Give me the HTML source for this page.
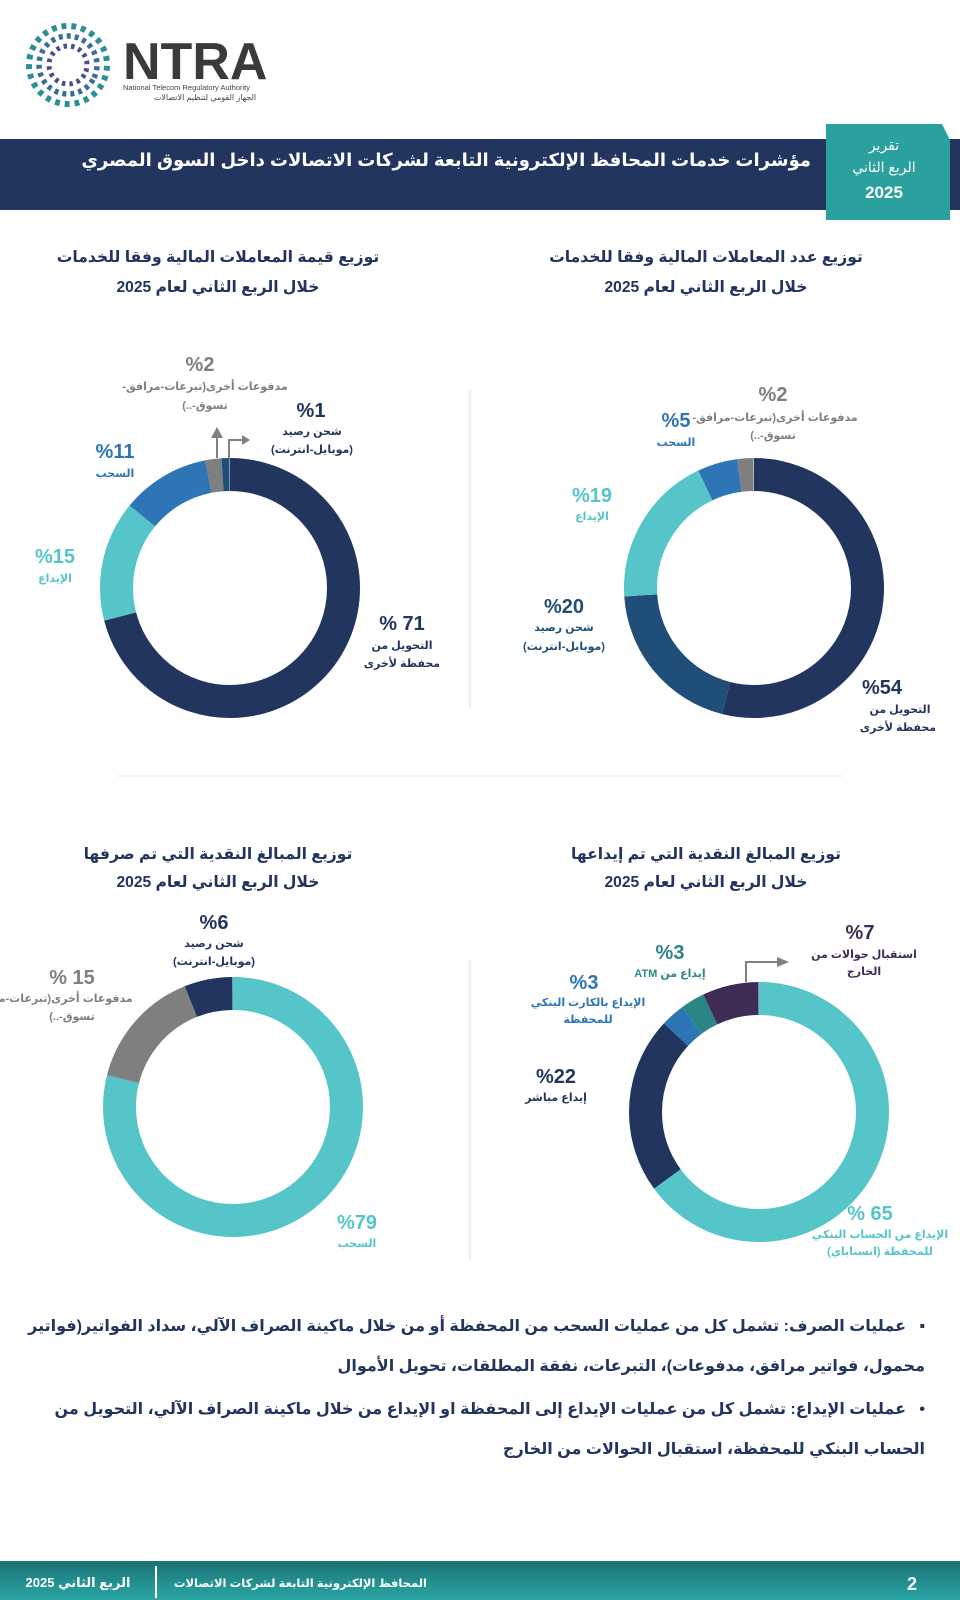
<!DOCTYPE html>
<html><head><meta charset="utf-8"><style>
html,body{margin:0;padding:0;background:#fff;width:960px;height:1600px;overflow:hidden;}
body{position:relative;font-family:"Liberation Sans","DejaVu Sans",sans-serif;}
.b{position:absolute;right:35px;width:900px;direction:rtl;text-align:right;color:#22355e;font-weight:bold;font-size:16px;line-height:40px;}
</style></head><body>
<svg width="960" height="1600" style="position:absolute;left:0;top:0" font-family="Liberation Sans, DejaVu Sans, sans-serif">
<!-- logo dots -->
<g fill="none" transform="rotate(30 68 65)">
<circle cx="68" cy="65" r="39" stroke="#2a8f96" stroke-width="6" stroke-dasharray="4 4" pathLength="200" />
<circle cx="68" cy="65" r="29" stroke="#3a6d9a" stroke-width="5.5" stroke-dasharray="4 4"/>
<circle cx="68" cy="65" r="19" stroke="#4a4f8a" stroke-width="5" stroke-dasharray="3.5 4"/>
</g>
<text x="123" y="79" font-size="52" font-weight="bold" fill="#3a3a3a">NTRA</text>
<text x="123" y="90" font-size="7.5" fill="#444">National Telecom Regulatory Authority</text>
<text x="205" y="100" font-size="8" fill="#444" text-anchor="middle">الجهاز القومي لتنظيم الاتصالات</text>
<!-- banner -->
<rect x="0" y="139" width="960" height="71" fill="#22355e"/>
<polygon points="826,124 942,124 950,140 950,220 826,220" fill="#2aa19f"/>
<text x="884" y="150" font-size="14" fill="#fff" text-anchor="middle">تقرير</text>
<text x="884" y="172" font-size="14" fill="#fff" text-anchor="middle">الربع الثاني</text>
<text x="884" y="198" font-size="17" font-weight="bold" fill="#fff" text-anchor="middle">2025</text>
<text x="811" y="166" font-size="18" font-weight="bold" fill="#fff" text-anchor="end">مؤشرات خدمات المحافظ الإلكترونية التابعة لشركات الاتصالات داخل السوق المصري</text>
<!-- titles -->
<g font-size="15.6" font-weight="bold" fill="#22355e" text-anchor="middle">
<text x="706" y="262">توزيع عدد المعاملات المالية وفقا للخدمات</text>
<text x="706" y="292">خلال الربع الثاني لعام 2025</text>
<text x="218" y="262">توزيع قيمة المعاملات المالية وفقا للخدمات</text>
<text x="218" y="292">خلال الربع الثاني لعام 2025</text>
<text x="706" y="859">توزيع المبالغ النقدية التي تم إيداعها</text>
<text x="706" y="887">خلال الربع الثاني لعام 2025</text>
<text x="218" y="859">توزيع المبالغ النقدية التي تم صرفها</text>
<text x="218" y="887">خلال الربع الثاني لعام 2025</text>
</g>
<line x1="470" y1="390" x2="470" y2="708" stroke="#ddd"/>
<line x1="470" y1="960" x2="470" y2="1260" stroke="#ddd"/>
<line x1="118" y1="776" x2="842" y2="776" stroke="#e2e2e2"/>
<!-- donuts -->
<g fill="none" stroke-width="33">
<g transform="translate(754,588) rotate(-90)">
<circle r="113.5" pathLength="100" stroke="#22355e" stroke-dasharray="54 100"/>
<circle r="113.5" pathLength="100" stroke="#1f4e79" stroke-dasharray="20 100" stroke-dashoffset="-54"/>
<circle r="113.5" pathLength="100" stroke="#56c5c9" stroke-dasharray="19 100" stroke-dashoffset="-74"/>
<circle r="113.5" pathLength="100" stroke="#2e75b6" stroke-dasharray="5 100" stroke-dashoffset="-93"/>
<circle r="113.5" pathLength="100" stroke="#7f7f7f" stroke-dasharray="2 100" stroke-dashoffset="-98"/>
</g>
<g transform="translate(230,588) rotate(-90)">
<circle r="113.5" pathLength="100" stroke="#22355e" stroke-dasharray="71 100"/>
<circle r="113.5" pathLength="100" stroke="#56c5c9" stroke-dasharray="15 100" stroke-dashoffset="-71"/>
<circle r="113.5" pathLength="100" stroke="#2e75b6" stroke-dasharray="11 100" stroke-dashoffset="-86"/>
<circle r="113.5" pathLength="100" stroke="#7f7f7f" stroke-dasharray="2 100" stroke-dashoffset="-97"/>
<circle r="113.5" pathLength="100" stroke="#1f4e79" stroke-dasharray="1 100" stroke-dashoffset="-99"/>
</g>
<g transform="translate(233,1107) rotate(-90)">
<circle r="113.5" pathLength="100" stroke="#56c5c9" stroke-dasharray="79 100"/>
<circle r="113.5" pathLength="100" stroke="#7f7f7f" stroke-dasharray="15 100" stroke-dashoffset="-79"/>
<circle r="113.5" pathLength="100" stroke="#22355e" stroke-dasharray="6 100" stroke-dashoffset="-94"/>
</g>
<g transform="translate(759,1112) rotate(-90)">
<circle r="113.5" pathLength="100" stroke="#56c5c9" stroke-dasharray="65 100"/>
<circle r="113.5" pathLength="100" stroke="#22355e" stroke-dasharray="22 100" stroke-dashoffset="-65"/>
<circle r="113.5" pathLength="100" stroke="#2e75b6" stroke-dasharray="3 100" stroke-dashoffset="-87"/>
<circle r="113.5" pathLength="100" stroke="#2b8584" stroke-dasharray="3 100" stroke-dashoffset="-90"/>
<circle r="113.5" pathLength="100" stroke="#3e2b56" stroke-dasharray="7 100" stroke-dashoffset="-93"/>
</g>
</g>
<!-- arrows -->
<g stroke="#808080" stroke-width="2" fill="none">
<polyline points="217,458 217,437"/>
<polyline points="229,458 229,440 243,440"/>
<polyline points="746,982 746,962 778,962"/>
</g>
<g fill="#808080">
<polygon points="211,438 223,438 217,427"/>
<polygon points="242,435 250,440 242,445"/>
<polygon points="777,957 789,962 777,967"/>
</g>
<!-- labels -->
<g text-anchor="middle" font-weight="bold">
<text x="773" y="401" font-size="20" fill="#7f7f7f">%2</text>
<text x="775" y="421" font-size="11" fill="#7f7f7f" direction="rtl">مدفوعات أخرى(تبرعات-مرافق-</text>
<text x="773" y="439" font-size="11" fill="#7f7f7f" direction="rtl">تسوق-..)</text>
<text x="676" y="427" font-size="20" fill="#2e75b6">%5</text>
<text x="676" y="446" font-size="11" fill="#2e75b6">السحب</text>
<text x="592" y="502" font-size="20" fill="#56c5c9">%19</text>
<text x="592" y="520" font-size="11" fill="#56c5c9">الإيداع</text>
<text x="564" y="613" font-size="20" fill="#1f4e79">%20</text>
<text x="564" y="631" font-size="11" fill="#1f4e79">شحن رصيد</text>
<text x="564" y="650" font-size="11" fill="#1f4e79" direction="rtl">(موبايل-انترنت)</text>
<text x="882" y="694" font-size="20" fill="#22355e">%54</text>
<text x="900" y="713" font-size="11" fill="#22355e">التحويل من</text>
<text x="898" y="731" font-size="11" fill="#22355e">محفظة لأخرى</text>
<text x="200" y="371" font-size="20" fill="#7f7f7f">%2</text>
<text x="205" y="390" font-size="11" fill="#7f7f7f" direction="rtl">مدفوعات أخرى(تبرعات-مرافق-</text>
<text x="205" y="409" font-size="11" fill="#7f7f7f" direction="rtl">تسوق-..)</text>
<text x="311" y="417" font-size="20" fill="#22355e">%1</text>
<text x="312" y="435" font-size="11" fill="#22355e">شحن رصيد</text>
<text x="312" y="453" font-size="11" fill="#22355e" direction="rtl">(موبايل-انترنت)</text>
<text x="115" y="458" font-size="20" fill="#2e75b6">%11</text>
<text x="115" y="477" font-size="11" fill="#2e75b6">السحب</text>
<text x="55" y="563" font-size="20" fill="#56c5c9">%15</text>
<text x="55" y="582" font-size="11" fill="#56c5c9">الإيداع</text>
<text x="402" y="630" font-size="20" fill="#22355e">% 71</text>
<text x="402" y="649" font-size="11" fill="#22355e">التحويل من</text>
<text x="402" y="667" font-size="11" fill="#22355e">محفظة لأخرى</text>
<text x="214" y="929" font-size="20" fill="#22355e">%6</text>
<text x="214" y="947" font-size="11" fill="#22355e">شحن رصيد</text>
<text x="214" y="965" font-size="11" fill="#22355e" direction="rtl">(موبايل-انترنت)</text>
<text x="72" y="984" font-size="20" fill="#7f7f7f">% 15</text>
<text x="50" y="1002" font-size="11" fill="#7f7f7f" direction="rtl">مدفوعات أخرى(تبرعات-مرافق-</text>
<text x="72" y="1020" font-size="11" fill="#7f7f7f" direction="rtl">تسوق-..)</text>
<text x="357" y="1229" font-size="20" fill="#56c5c9">%79</text>
<text x="357" y="1247" font-size="11" fill="#56c5c9">السحب</text>
<text x="860" y="939" font-size="20" fill="#3e2b56">%7</text>
<text x="864" y="958" font-size="11" fill="#3e2b56">استقبال حوالات من</text>
<text x="864" y="975" font-size="11" fill="#3e2b56">الخارج</text>
<text x="670" y="959" font-size="20" fill="#2b8584">%3</text>
<text x="670" y="977" font-size="11" fill="#2b8584" direction="rtl">إيداع من ATM</text>
<text x="584" y="989" font-size="20" fill="#2e75b6">%3</text>
<text x="588" y="1006" font-size="11" fill="#2e75b6">الإيداع بالكارت البنكي</text>
<text x="588" y="1023" font-size="11" fill="#2e75b6">للمحفظة</text>
<text x="556" y="1083" font-size="20" fill="#22355e">%22</text>
<text x="556" y="1101" font-size="11" fill="#22355e">إيداع مباشر</text>
<text x="870" y="1220" font-size="20" fill="#56c5c9">% 65</text>
<text x="880" y="1238" font-size="11" fill="#56c5c9">الإيداع من الحساب البنكي</text>
<text x="880" y="1255" font-size="11" fill="#56c5c9" direction="rtl">للمحفظة (انستاباي)</text>
</g>
<!-- footer -->
<defs><linearGradient id="fg" x1="0" y1="0" x2="0" y2="1"><stop offset="0" stop-color="#1b7274"/><stop offset="1" stop-color="#2aa6a5"/></linearGradient></defs>
<rect x="0" y="1561" width="960" height="39" fill="url(#fg)"/>
<line x1="156" y1="1566" x2="156" y2="1598" stroke="#fff" stroke-width="2"/>
<text x="912" y="1590" font-size="18" font-weight="bold" fill="#fff" text-anchor="middle">2</text>
<text x="427" y="1587" font-size="11.5" font-weight="bold" fill="#fff" text-anchor="end">المحافظ الإلكترونية التابعة لشركات الاتصالات</text>
<text x="78" y="1587" font-size="13" font-weight="bold" fill="#fff" text-anchor="middle">الربع الثاني 2025</text>
</svg>
<div class="b" style="top:1307px;">▪&nbsp;&nbsp;&nbsp;عمليات الصرف: تشمل كل من عمليات السحب من المحفظة أو من خلال ماكينة الصراف الآلي، سداد الفواتير(فواتير محمول، فواتير مرافق، مدفوعات)، التبرعات، نفقة المطلقات، تحويل الأموال</div>
<div class="b" style="top:1390px;">•&nbsp;&nbsp;&nbsp;عمليات الإيداع: تشمل كل من عمليات الإيداع إلى المحفظة او الإيداع من خلال ماكينة الصراف الآلي، التحويل من الحساب البنكي للمحفظة، استقبال الحوالات من الخارج</div>
</body></html>
